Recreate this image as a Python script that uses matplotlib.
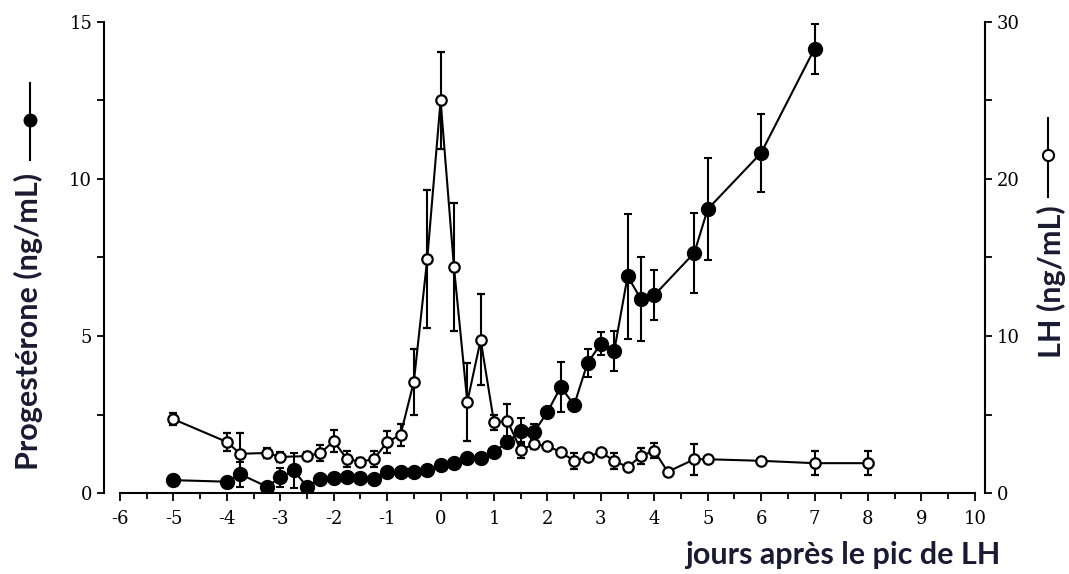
import numpy as np
import matplotlib.pyplot as plt
from matplotlib.lines import Line2D
from matplotlib.ticker import MultipleLocator

plt.rcParams['axes.unicode_minus'] = False

# Progestérone (points pleins), axe de gauche
prog_x = [-5, -4, -3.75, -3.25, -3, -2.75, -2.5, -2.25, -2, -1.75, -1.5, -1.25,
          -1, -0.75, -0.5, -0.25, 0, 0.25, 0.5, 0.75, 1, 1.25, 1.5, 1.75, 2,
          2.25, 2.5, 2.75, 3, 3.25, 3.5, 3.75, 4, 4.75, 5, 6, 7]
prog_y = [0.41, 0.36, 0.6, 0.2, 0.5, 0.72, 0.2, 0.44, 0.48, 0.5, 0.48, 0.45,
          0.67, 0.67, 0.67, 0.73, 0.89, 0.97, 1.1, 1.12, 1.31, 1.62, 1.97, 1.94, 2.58,
          3.38, 2.8, 4.14, 4.75, 4.52, 6.9, 6.18, 6.3, 7.65, 9.04, 10.83, 14.15]
prog_err = [0.15, 0.1, 0.4, 0.1, 0.3, 0.55, 0.1, 0.1, 0.1, 0.1, 0.1, 0.1,
            0.1, 0.1, 0.1, 0.1, 0.1, 0.1, 0.1, 0.1, 0.1, 0.2, 0.42, 0.25, 0.1,
            0.8, 0.1, 0.45, 0.37, 0.65, 2.0, 1.35, 0.8, 1.27, 1.62, 1.24, 0.8]

# LH (points vides), axe de droite
lh_x = [-5, -4, -3.75, -3.25, -3, -2.5, -2.25, -2, -1.75, -1.5, -1.25, -1,
        -0.75, -0.5, -0.25, 0, 0.25, 0.5, 0.75, 1, 1.25, 1.5, 1.75, 2, 2.25,
        2.5, 2.75, 3, 3.25, 3.5, 3.75, 4, 4.25, 4.75, 5, 6, 7, 8]
lh_y = [4.7, 3.25, 2.5, 2.55, 2.3, 2.35, 2.55, 3.3, 2.15, 2.0, 2.15, 3.25,
        3.7, 7.1, 14.9, 25.0, 14.4, 5.8, 9.75, 4.5, 4.6, 2.75, 3.1, 3.0, 2.6,
        2.05, 2.3, 2.6, 2.05, 1.65, 2.35, 2.7, 1.35, 2.15, 2.15, 2.05, 1.9, 1.9]
lh_err = [0.4, 0.6, 1.3, 0.3, 0.3, 0.25, 0.5, 0.7, 0.5, 0.2, 0.5, 0.7,
          0.7, 2.1, 4.4, 3.1, 4.1, 2.5, 2.9, 0.5, 1.1, 0.5, 0.3, 0.2, 0.2,
          0.5, 0.2, 0.2, 0.5, 0.2, 0.5, 0.5, 0.1, 1.0, 0.1, 0.1, 0.75, 0.75]

xticks = list(range(-6, 11))

label_color = '#1a1a33'
label_font = ['Lato', 'DejaVu Sans']
tick_font = 'DejaVu Serif'

fig = plt.figure(figsize=(10.69, 5.74), dpi=100)
ax = fig.add_axes([0.0973, 0.1411, 0.8241, 0.8206])
ax2 = ax.twinx()

ax.errorbar(prog_x, prog_y, yerr=prog_err, fmt='-o', color='black', lw=1.5,
            ms=10, elinewidth=1.5, capsize=3, capthick=1.5, zorder=3)
ax2.errorbar(lh_x, lh_y, yerr=lh_err, fmt='-o', color='black', lw=1.5,
             ms=7.5, mfc='white', mec='black', mew=1.6,
             elinewidth=1.5, capsize=3, capthick=1.5, zorder=3)

ax.set_xlim(-6.3, 10.19)
ax.set_ylim(0, 15)
ax2.set_ylim(0, 30)

ax.set_xticks(xticks)
ax.set_xticklabels([str(t) for t in xticks])
ax.xaxis.set_minor_locator(MultipleLocator(0.5))
ax.yaxis.set_major_locator(MultipleLocator(5))
ax.yaxis.set_minor_locator(MultipleLocator(2.5))
ax2.yaxis.set_major_locator(MultipleLocator(10))
ax2.yaxis.set_minor_locator(MultipleLocator(5))

for a in (ax, ax2):
    a.spines['top'].set_visible(False)
    for s in a.spines.values():
        s.set_linewidth(1.5)
ax.spines['right'].set_visible(False)
ax2.spines['left'].set_visible(False)
ax2.spines['bottom'].set_visible(False)
ax.spines['bottom'].set_bounds(-6, 10)

ax.tick_params(axis='x', which='both', direction='out', width=1.3, pad=6,
               labelsize=13)
ax.tick_params(axis='x', which='major', length=6)
ax.tick_params(axis='x', which='minor', length=4)
ax.tick_params(axis='y', which='both', direction='out', width=1.3, length=5,
               labelsize=13)
ax2.tick_params(axis='y', which='both', direction='out', width=1.3, length=5,
                labelsize=13)
for lab in ax.get_xticklabels() + ax.get_yticklabels() + ax2.get_yticklabels():
    lab.set_fontfamily(tick_font)

# titres des axes
fig.text(0.027, 0.44, 'Progestérone (ng/mL)', rotation=90, ha='center',
         va='center', fontsize=22, fontweight='bold', color=label_color,
         family=label_font)
fig.text(0.984, 0.51, 'LH (ng/mL)', rotation=90, ha='center', va='center',
         fontsize=22, fontweight='bold', color=label_color, family=label_font)
fig.text(0.936, 0.033, 'jours après le pic de LH', ha='right', va='center',
         fontsize=22, fontweight='bold', color=label_color, family=label_font)

# symboles de légende
fig.add_artist(Line2D([0.028, 0.028], [1 - 83 / 574, 1 - 160 / 574],
                      transform=fig.transFigure, color='black', lw=1.5))
fig.add_artist(Line2D([0.028], [1 - 120 / 574], transform=fig.transFigure,
                      marker='o', ms=9, color='black'))
fig.add_artist(Line2D([0.9805, 0.9805], [1 - 118 / 574, 1 - 197 / 574],
                      transform=fig.transFigure, color='black', lw=1.5))
fig.add_artist(Line2D([0.9805], [1 - 155 / 574], transform=fig.transFigure,
                      marker='o', ms=8, mfc='white', mec='black', mew=1.5))

fig.savefig('out.png', dpi=100)
